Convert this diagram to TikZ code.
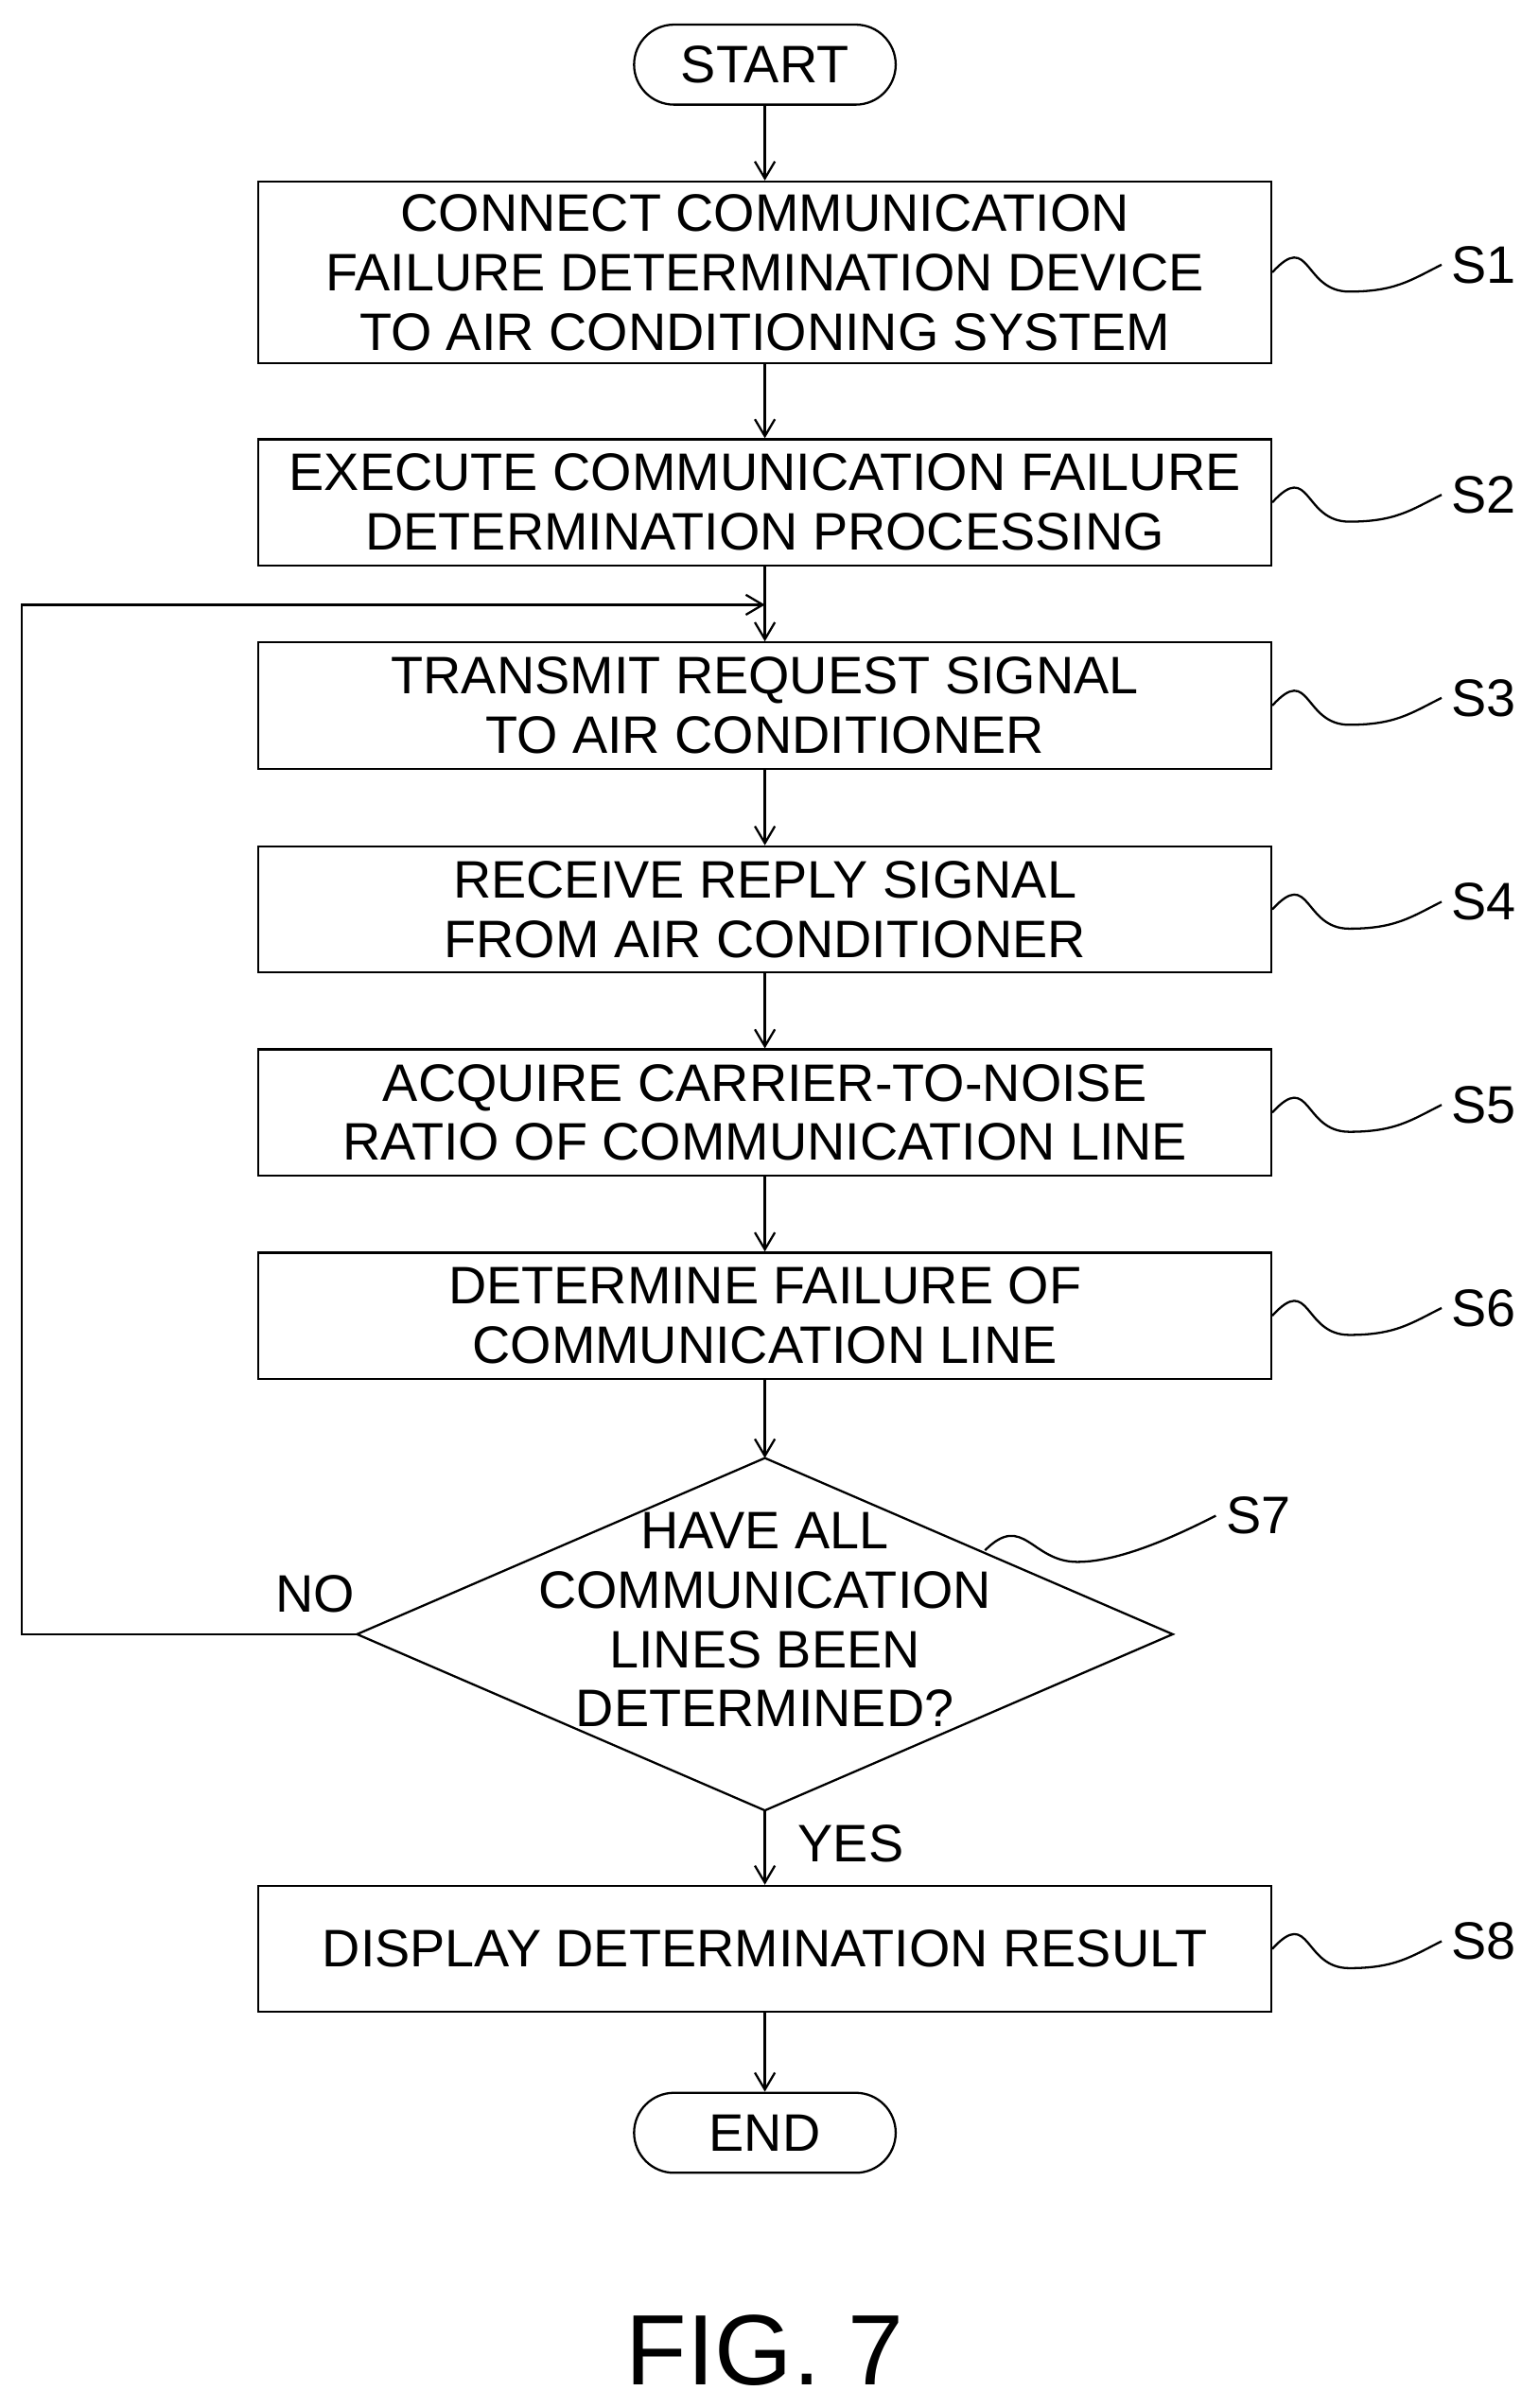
\documentclass[tikz,border=0pt]{standalone}
\usepackage{fontspec}
\setmainfont{Liberation Sans}
\usetikzlibrary{arrows.meta}

\tikzset{
  box/.style = {draw, line width=0.8pt, minimum width=13.16cm, minimum height=1.64cm,
    align=center, font=\fontsize{19.5}{22}\selectfont, inner sep=0pt},
  term/.style = {draw, line width=0.8pt, rounded corners=0.52cm, minimum width=3.4cm,
    minimum height=1.04cm, font=\fontsize{19.5}{22}\selectfont},
  flow/.style = {line width=0.8pt, -{Straight Barb[length=2.2mm,width=2.6mm]}},
  squig/.style = {line width=0.8pt},
  lbl/.style = {font=\fontsize{19.5}{22}\selectfont}
}

\begin{document}
\begin{tikzpicture}
	\useasboundingbox (0,0) rectangle (20,-31.297);
	% terminals and steps
	\node [term] (start) at (9.94,-0.84) {START};
	\node [box, minimum height=2.36cm] (s1) at (9.94,-3.54) {CONNECT COMMUNICATION\\FAILURE DETERMINATION DEVICE\\TO AIR CONDITIONING SYSTEM};
	\node [box] (s2) at (9.94,-6.53) {EXECUTE COMMUNICATION FAILURE\\DETERMINATION PROCESSING};
	\node [box] (s3) at (9.94,-9.17) {TRANSMIT REQUEST SIGNAL\\TO AIR CONDITIONER};
	\node [box] (s4) at (9.94,-11.82) {RECEIVE REPLY SIGNAL\\FROM AIR CONDITIONER};
	\node [box] (s5) at (9.94,-14.46) {ACQUIRE CARRIER-TO-NOISE\\RATIO OF COMMUNICATION LINE};
	\node [box] (s6) at (9.94,-17.10) {DETERMINE FAILURE OF\\COMMUNICATION LINE};
	\node [box, draw=none] (s7) at (9.94,-21.05) {HAVE ALL\\COMMUNICATION\\LINES BEEN\\DETERMINED?};
	\node [box] (s8) at (9.94,-25.33) {DISPLAY DETERMINATION RESULT};
	\node [term] (end) at (9.94,-27.72) {END};
	% decision outline
	\coordinate (d7n) at (9.94,-18.95);
	\coordinate (d7s) at (9.94,-23.53);
	\coordinate (d7w) at (4.64,-21.24);
	\coordinate (d7e) at (15.24,-21.24);
	\draw [line width=0.8pt] (d7n) -- (d7e) -- (d7s) -- (d7w) -- cycle;
	% connectors
	\draw [flow] (start) -- (s1);
	\draw [flow] (s1) -- (s2);
	\draw [flow] (s2) -- (s3);
	\draw [flow] (s3) -- (s4);
	\draw [flow] (s4) -- (s5);
	\draw [flow] (s5) -- (s6);
	\draw [flow] (s6) -- (d7n);
	\draw [flow] (d7s) -- (s8) node [lbl, pos=0.45, right=0.3cm] {YES};
	\draw [flow] (s8) -- (end);
	\coordinate (join) at (9.94,-7.86);
	\coordinate (back) at (0.28,-21.24);
	\draw [flow] (d7w) -- (back) |- (join);
	\node [lbl] (no) at (4.1,-20.72) {NO};
	% step labels
	\foreach \s/\t in {s1/S1, s2/S2, s3/S3, s4/S4, s5/S5, s6/S6, s8/S8}
		\draw [squig] (\s.east) .. controls +(0.5,0.55) and +(-0.6,0) .. ++(1.0,-0.25)
			.. controls +(0.6,0) and +(-0.4,-0.2) .. ++(1.2,0.35) node [lbl, right] {\t};
	\coordinate (s7e) at (12.8,-20.15);
	\draw [squig] (s7e) .. controls +(0.5,0.5) and +(-0.6,0) .. ++(1.2,-0.15)
		.. controls +(0.6,0) and +(-0.4,-0.2) .. ++(1.8,0.6) node [lbl, right] {S7};
	% figure caption
	\node [font=\fontsize{37}{40}\selectfont] (fig) at (9.94,-30.55) {FIG. 7};
\end{tikzpicture}
\end{document}
